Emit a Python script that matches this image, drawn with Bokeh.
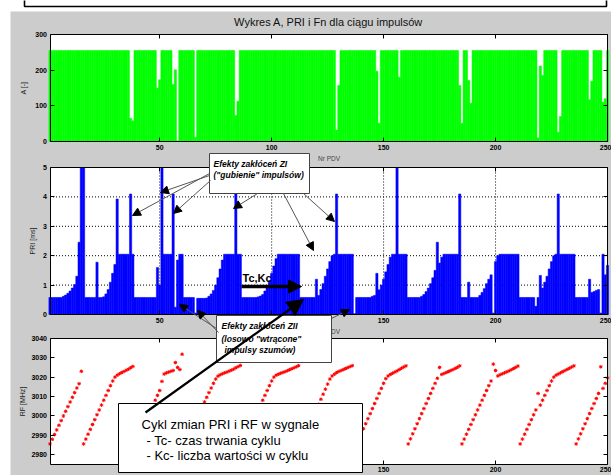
import numpy as np
from bokeh.plotting import figure
from bokeh.models import (Range1d, LinearAxis, FixedTicker, Label, Arrow, NormalHead,
                          BoxAnnotation)
from bokeh.embed import file_html
from bokeh.resources import INLINE

W, H = 611, 475

# ---------------- data ----------------
PULSE = list(range(1, 251))

A_VALUES = [
    255, 255, 255, 255, 255, 255, 255, 255, 255, 255, 255, 255, 255, 255, 255, 255, 255, 255, 255, 255, 255, 255, 255, 255, 255,
    255, 255, 255, 255, 255, 255, 255, 255, 255, 255, 255, 65, 58, 255, 255, 255, 255, 255, 255, 255, 255, 255, 255, 150, 173,
    255, 255, 255, 255, 255, 160, 201, 2, 255, 255, 255, 255, 255, 255, 255, 12, 255, 255, 255, 255, 255, 255, 255, 255, 255,
    255, 255, 255, 255, 255, 255, 255, 255, 73, 113, 255, 255, 255, 255, 255, 255, 255, 255, 255, 255, 255, 255, 255, 255, 255,
    255, 255, 255, 255, 255, 255, 255, 255, 255, 255, 255, 255, 255, 255, 255, 255, 255, 255, 255, 255, 255, 255, 255, 255, 255,
    255, 255, 255, 32, 157, 255, 255, 255, 255, 255, 255, 255, 255, 255, 255, 255, 255, 255, 255, 255, 255, 197, 51, 255, 255,
    255, 255, 255, 255, 255, 255, 180, 255, 255, 255, 255, 255, 255, 255, 255, 255, 255, 255, 255, 255, 255, 255, 255, 255, 255,
    255, 255, 255, 255, 255, 255, 255, 255, 157, 51, 255, 255, 171, 107, 255, 255, 255, 255, 255, 255, 255, 255, 255, 255, 255,
    255, 255, 255, 255, 255, 255, 255, 255, 255, 255, 255, 255, 255, 255, 255, 255, 255, 255, 10, 212, 185, 255, 255, 255, 255,
    255, 255, 26, 70, 255, 255, 255, 255, 255, 255, 255, 255, 255, 255, 255, 255, 117, 169, 255, 255, 255, 255, 110, 120, 255,
]

PRI_VALUES = [
    0.58, 0.58, 0.58, 0.58, 0.58, 0.58, 0.62, 0.66, 0.72, 0.80,
    0.90, 1.02, 1.30, 2.46, 6.20, 6.20, 0.58, 0.58, 0.58, 0.58,
    0.58, 1.78, 0.58, 0.58, 0.60, 0.70, 0.85, 1.10, 1.40, 1.70,
    3.93, 2.05, 2.05, 2.05, 2.05, 2.05, 4.10, 2.05, 0.58, 0.58,
    0.58, 0.58, 0.58, 0.58, 0.58, 0.58, 0.58, 0.58, 1.60, 1.00,
    6.20, 2.05, 2.05, 2.05, 2.05, 4.10, 0.25, 1.85, 2.05, 2.05,
    0.58, 0.58, 0.58, 0.58, 0.58, 0.05, 0.55, 0.55, 0.55, 0.55,
    0.56, 0.62, 0.70, 0.82, 1.00, 1.25, 1.55, 1.85, 2.05, 2.05,
    2.05, 2.05, 2.05, 4.10, 2.05, 2.05, 0.58, 0.58, 0.58, 0.58,
    0.58, 0.58, 0.58, 0.60, 0.63, 0.68, 0.80, 0.95, 1.15, 1.40,
    1.65, 1.90, 2.05, 2.05, 2.05, 2.05, 2.05, 2.05, 2.05, 2.05,
    2.05, 2.05, 0.58, 0.58, 0.58, 0.58, 0.58, 0.58, 0.58, 1.20,
    0.65, 0.85, 1.05, 1.30, 1.55, 1.80, 2.00, 2.05, 4.10, 2.05,
    2.05, 2.05, 2.05, 2.05, 2.05, 2.05, 0.03, 0.58, 0.58, 0.58,
    0.58, 0.58, 0.58, 0.58, 0.62, 0.65, 1.40, 0.84, 1.00, 1.20,
    1.45, 1.70, 1.95, 2.05, 2.05, 6.20, 2.05, 2.05, 2.05, 2.05,
    0.58, 0.58, 0.58, 0.58, 0.58, 0.58, 0.62, 0.68, 0.78, 0.90,
    1.05, 1.25, 1.50, 2.46, 1.75, 1.95, 2.05, 2.05, 2.05, 2.05,
    2.05, 2.05, 2.05, 4.10, 0.58, 0.58, 0.58, 1.10, 0.58, 0.58,
    0.58, 0.58, 0.65, 0.75, 0.88, 1.05, 1.20, 1.35, 0.05, 1.80,
    2.00, 2.05, 2.05, 2.05, 2.05, 2.05, 2.05, 2.05, 2.05, 2.05,
    0.58, 0.58, 0.58, 0.58, 0.58, 0.58, 0.58, 0.28, 0.58, 1.33,
    0.90, 1.10, 1.30, 1.55, 1.80, 2.00, 2.05, 4.10, 2.05, 2.05,
    2.05, 2.05, 2.05, 2.05, 2.05, 0.58, 0.58, 0.58, 0.58, 0.58,
    0.58, 1.20, 0.75, 0.78, 0.82, 0.85, 0.05, 2.05, 1.35, 1.67,
]

RF_VALUES = [
    2985.6, 2988.0, 2990.4, 2992.8, 2995.2, 2997.6, 3000.0, 3002.4, 3004.8, 3007.2,
    3009.6, 3012.0, 3014.4, 3016.6, 3023.0, 2985.6, 2988.1, 2990.6, 2993.1, 2995.6,
    2998.1, 3000.6, 3003.1, 3005.6, 3008.1, 3010.6, 3013.1, 3015.6, 3018.0, 3020.0,
    3021.0, 3021.7, 3022.3, 3022.9, 3023.5, 3024.1, 3024.8, 3025.5, 2985.6, 2988.1,
    2990.6, 2993.1, 2995.6, 2998.1, 3000.6, 3003.1, 3005.6, 3008.1, 3010.6, 3013.1,
    3017.8, 3021.6, 3022.2, 3022.6, 3023.0, 3023.4, 3027.5, 3025.0, 3023.9, 3031.8,
    2985.6, 2988.0, 2990.4, 2992.8, 2995.2, 2997.6, 3000.0, 3002.4, 3004.8, 3007.2,
    3009.6, 3012.0, 3014.4, 3016.8, 3019.0, 3020.5, 3021.2, 3021.7, 3022.2, 3022.6,
    3023.1, 3023.6, 3024.1, 3024.8, 3025.4, 3026.0, 2985.6, 2988.1, 2990.6, 2993.1,
    2995.6, 2998.1, 3000.6, 3003.1, 3005.6, 3008.1, 3010.6, 3013.1, 3015.6, 3018.0,
    3020.0, 3021.0, 3021.5, 3022.0, 3022.4, 3022.8, 3023.3, 3023.8, 3024.3, 3024.8,
    3025.3, 3025.9, 2985.6, 2988.1, 2990.6, 2993.1, 2995.6, 2998.1, 3000.6, 3003.1,
    3006.0, 3008.6, 3011.2, 3013.8, 3016.4, 3019.0, 3020.6, 3021.5, 3022.3, 3022.9,
    3023.4, 3023.9, 3024.4, 3024.9, 3025.4, 3025.9, 2993.0, 2985.6, 2988.2, 2990.8,
    2993.4, 2996.0, 2998.6, 3001.2, 3003.8, 3006.4, 3009.0, 3011.6, 3014.2, 3016.8,
    3019.2, 3020.6, 3021.4, 3022.0, 3022.6, 3023.2, 3023.9, 3024.6, 3025.2, 3025.8,
    2985.6, 2988.2, 2990.8, 2993.4, 2996.0, 2998.6, 3001.2, 3003.8, 3006.4, 3009.0,
    3011.6, 3014.2, 3016.8, 3019.4, 3025.0, 3021.4, 3021.9, 3022.4, 3022.9, 3023.4,
    3023.9, 3024.5, 3025.1, 3025.8, 2985.6, 2988.1, 2990.6, 2993.1, 2995.6, 2998.1,
    3000.6, 3003.1, 3005.6, 3008.1, 3010.6, 3013.1, 3015.6, 3018.0, 3026.7, 3023.4,
    3020.6, 3021.2, 3021.7, 3022.2, 3022.7, 3023.2, 3023.8, 3024.4, 3025.0, 3025.7,
    2985.6, 2988.1, 2990.6, 2993.1, 2995.6, 2998.1, 3000.6, 3003.1, 3011.6, 3005.6,
    3008.1, 3010.6, 3013.1, 3015.6, 3018.0, 3020.0, 3021.0, 3021.6, 3022.2, 3022.8,
    3023.4, 3024.0, 3024.6, 3025.2, 3025.8, 2985.6, 2988.2, 2990.8, 2993.4, 2996.0,
    2998.6, 3001.2, 3003.8, 3006.4, 3009.0, 3011.6, 3025.3, 3014.2, 3016.8, 3019.6,
]

X_TICKS = [50, 100, 150, 200, 250]
A_TICKS = [0, 100, 200, 300]
PRI_TICKS = [0, 1, 2, 3, 4, 5]
RF_TICKS = [2980, 2990, 3000, 3010, 3020, 3030, 3040]
PRI_GRID_Y = [1, 2, 3, 4]
PRI_GRID_X = [50, 100, 150, 200]

TITLE = "Wykres A, PRI i Fn dla ciągu impulsów"

# axis limits
X_MIN, X_MAX = 1, 250
A_MIN, A_MAX = 0, 300
PRI_MIN, PRI_MAX = 0, 5
RF_MIN, RF_MAX = 2975, 3040

# ---------------- layout (pixels) ----------------
PX_LEFT, PX_RIGHT = 49.5, 607.0
A_PX = (34.0, 141.0)
PRI_PX = (167.0, 314.0)
RF_PX = (337.8, 464.0)

kx = (PX_RIGHT - PX_LEFT) / (X_MAX - X_MIN)
x_range = Range1d(start=X_MIN - PX_LEFT / kx, end=X_MAX + (W - PX_RIGHT) / kx)


def y_range_for(vmin, vmax, px):
    top, bot = px
    k = (bot - top) / (vmax - vmin)
    return Range1d(start=vmin - (H - bot) / k, end=vmax + top / k)


p = figure(width=W, height=H, x_range=x_range, y_range=Range1d(start=H, end=0),
           x_axis_type=None, y_axis_type=None, toolbar_location=None,
           output_backend="svg", min_border=0, min_border_left=0, min_border_right=0,
           min_border_top=0, min_border_bottom=0,
           background_fill_color="white", border_fill_color="white",
           outline_line_color=None)
p.extra_x_ranges = {"px": Range1d(0, W)}
p.extra_y_ranges = {"A": y_range_for(A_MIN, A_MAX, A_PX),
                    "PRI": y_range_for(PRI_MIN, PRI_MAX, PRI_PX),
                    "RF": y_range_for(RF_MIN, RF_MAX, RF_PX)}

GRAY = "#cccccc"
# figure background
p.quad(left=[10], right=[W], top=[11], bottom=[H], x_range_name="px",
       fill_color=GRAY, line_color=None, level="underlay")
p.quad(left=[24], right=[606], top=[-4], bottom=[6], x_range_name="px",
       fill_color="white", line_color="black", line_width=1.6, level="underlay")

# white plot areas
for rname, lo, hi in (("A", A_MIN, A_MAX), ("PRI", PRI_MIN, PRI_MAX), ("RF", RF_MIN, RF_MAX)):
    p.quad(left=[X_MIN], right=[X_MAX], bottom=[lo], top=[hi], y_range_name=rname,
           fill_color="white", line_color=None, level="underlay")

# dotted grid of the PRI panel
p.segment(x0=PRI_GRID_X, x1=PRI_GRID_X, y0=[PRI_MIN] * len(PRI_GRID_X), y1=[PRI_MAX] * len(PRI_GRID_X),
          y_range_name="PRI", line_color="black", line_width=1, line_dash="1 2", level="underlay")
p.segment(x0=[X_MIN] * len(PRI_GRID_Y), x1=[X_MAX] * len(PRI_GRID_Y), y0=PRI_GRID_Y, y1=PRI_GRID_Y,
          y_range_name="PRI", line_color="black", line_width=1, line_dash="1 2", level="underlay")

# data
p.vbar(x=PULSE, width=1, bottom=0, top=A_VALUES, y_range_name="A",
       fill_color="#00ff00", line_color="#00ff00", line_width=0.5)
p.vbar(x=PULSE, width=1, bottom=0, top=list(np.minimum(PRI_VALUES, PRI_MAX)), y_range_name="PRI",
       fill_color="#0000ff", line_color="#0000ff", line_width=0.5)
p.scatter(x=PULSE, y=RF_VALUES, y_range_name="RF", marker="asterisk", size=3.6,
          line_color="#ff0000", line_width=1.0)

FONT = "Liberation Sans"


def style(ax):
    ax.major_tick_in = 4
    ax.major_tick_out = 0
    ax.minor_tick_line_color = None
    ax.axis_line_color = "black"
    ax.major_tick_line_color = "black"
    ax.major_label_text_font = FONT
    ax.major_label_text_font_size = "7px"
    ax.major_label_text_font_style = "bold"
    ax.major_label_text_color = "black"
    ax.major_label_standoff = 3
    ax.axis_label_text_font = FONT
    ax.axis_label_text_font_size = "7px"
    ax.axis_label_text_font_style = "normal"
    ax.axis_label_text_color = "#222222"


def add_panel_axes(rname, lo, hi, yticks, ylabel, xlabel, ylabel_standoff, xlab_standoff=3):
    left = LinearAxis(y_range_name=rname, fixed_location=X_MIN, bounds=(lo, hi),
                      ticker=FixedTicker(ticks=yticks), axis_label=ylabel)
    style(left)
    left.axis_label_standoff = ylabel_standoff
    p.add_layout(left, "left")

    right = LinearAxis(y_range_name=rname, fixed_location=X_MAX, bounds=(lo, hi),
                       ticker=FixedTicker(ticks=yticks))
    style(right)
    right.major_label_overrides = {t: "" for t in yticks}
    p.add_layout(right, "right")

    bottom = LinearAxis(y_range_name=rname, fixed_location=lo, bounds=(X_MIN, X_MAX),
                        ticker=FixedTicker(ticks=X_TICKS), axis_label=xlabel)
    style(bottom)
    bottom.major_label_standoff = xlab_standoff
    bottom.axis_label_standoff = 2
    bottom.axis_label_text_font_size = "6.5px"
    bottom.axis_label_text_color = "#444444"
    p.add_layout(bottom, "below")

    top = LinearAxis(y_range_name=rname, fixed_location=hi, bounds=(X_MIN, X_MAX),
                     ticker=FixedTicker(ticks=X_TICKS))
    style(top)
    top.major_label_overrides = {t: "" for t in X_TICKS}
    p.add_layout(top, "above")


add_panel_axes("A", A_MIN, A_MAX, A_TICKS, "A [-]", "Nr PDV", 6)
add_panel_axes("PRI", PRI_MIN, PRI_MAX, PRI_TICKS, "PRI [ms]", "Nr PDV", 5)
add_panel_axes("RF", RF_MIN, RF_MAX, RF_TICKS, "RF [MHz]", None, 3, xlab_standoff=2)

# title
p.add_layout(Label(x=328, y=21, x_range_name="px", text=TITLE, text_align="center",
                   text_baseline="middle", text_font=FONT, text_font_size="11px",
                   text_color="#111111"))


def label(x, y, text, size, style="bold italic", color="black"):
    p.add_layout(Label(x=x, y=y, x_range_name="px", text=text, text_font=FONT,
                       text_font_size=size, text_font_style=style, text_baseline="middle",
                       text_color=color))


def arrow(x0, y0, x1, y1, width=1.0, color="#555555", head=8):
    p.add_layout(Arrow(x_start=x0, y_start=y0, x_end=x1, y_end=y1, x_range_name="px",
                       line_color=color, line_width=width,
                       end=NormalHead(size=head, fill_color="black", line_color="black",
                                      line_width=1)))


# ---- annotation: ZI ----
p.add_layout(BoxAnnotation(left=209, right=309, top=153, bottom=193, x_range_name="px",
                           fill_color="white", fill_alpha=1, line_color="#444444",
                           line_width=1, line_alpha=1))
label(213, 163.5, "Efekty zakłóceń ZI", "8.5px")
label(213, 174.5, "(\"gubienie\" impulsów)", "8.5px")
arrow(209, 173, 132, 215)
arrow(209, 175, 160, 192)
arrow(210, 180, 173, 213)
arrow(257, 193, 233, 208)
arrow(283, 193, 313, 250)
arrow(303, 193, 334, 221)

# ---- Tc, Kc ----
label(242, 277, "Tc,Kc", "11px", style="bold")
arrow(241, 286, 301, 286, width=3.5, color="black", head=13)

# ---- annotation: ZII ----
p.add_layout(BoxAnnotation(left=216, right=331, top=315, bottom=362, x_range_name="px",
                           fill_color="white", fill_alpha=1, line_color="#444444",
                           line_width=1, line_alpha=1))
label(221, 325.5, "Efekty zakłóceń ZII", "8.5px")
label(221, 338, "(losowo \"wtrącone\"", "8.5px")
label(224, 349.5, "impulsy szumów)", "8.5px")
arrow(216, 328, 179, 304)
arrow(218, 332, 197, 310)
arrow(331, 318, 349, 309)

# ---- annotation: cycle ----
p.add_layout(BoxAnnotation(left=118, right=362, top=403, bottom=472, x_range_name="px",
                           fill_color="white", fill_alpha=1, line_color="black",
                           line_width=1, line_alpha=1))
label(141, 423.5, "Cykl zmian PRI i RF w sygnale", "13px", style="normal", color="black")
label(146, 439.5, "- Tc- czas trwania cyklu", "13px", style="normal", color="black")
label(146, 454.5, "- Kc- liczba wartości w cyklu", "13px", style="normal", color="black")
arrow(145, 412, 303, 299, width=2.2, color="black", head=16)

open("out.html", "w").write(file_html(p, INLINE))
